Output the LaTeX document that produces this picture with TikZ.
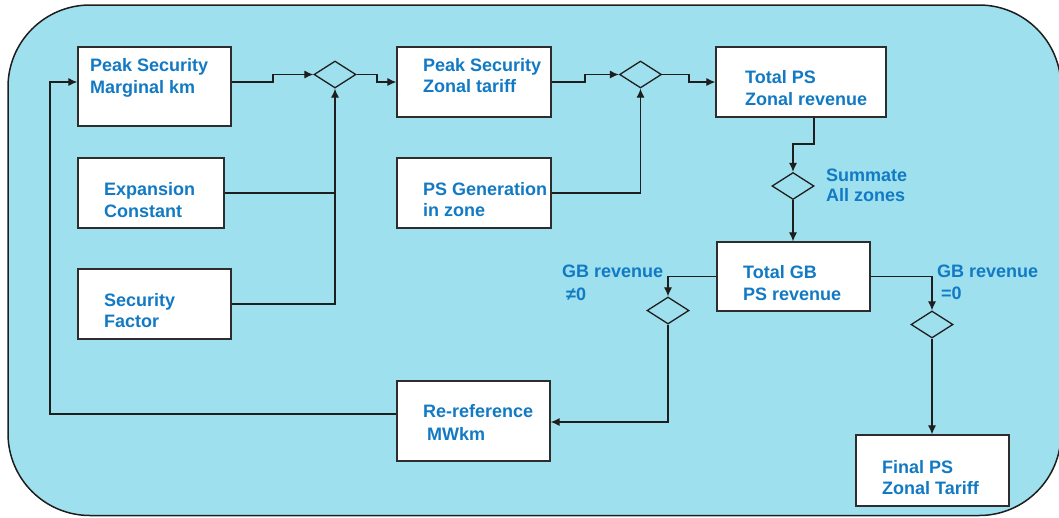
\documentclass[tikz,border=0pt]{standalone}
\usepackage{fontspec}
\setmainfont{Liberation Sans}
\usetikzlibrary{shapes.geometric,arrows.meta}
\definecolor{bgcol}{RGB}{158,224,238}
\definecolor{txtcol}{RGB}{18,122,196}
\definecolor{linecol}{RGB}{30,30,30}
\definecolor{boxline}{RGB}{45,45,45}
\tikzset{
  box/.style={draw=boxline, line width=1.3pt, fill=white, inner sep=0pt},
  dia/.style={diamond, draw=linecol, line width=1.3pt, inner sep=0pt, minimum width=42pt, minimum height=27pt},
  lbl/.style={anchor=base west, inner sep=0pt, text=txtcol, font=\fontsize{18}{22}\selectfont\bfseries},
  conn/.style={draw=linecol, line width=1.1pt},
  arr/.style={conn, -{Latex[length=9pt,width=8pt]}}
}
\begin{document}
\begin{tikzpicture}[x=1pt,y=-1pt]
\useasboundingbox (0,0) rectangle (1059,517);
\draw[fill=bgcol, draw=linecol, line width=1.5pt, rounded corners=82pt] (8,5) rectangle (1061,515.5);

% boxes
\node[box, minimum width=153pt, minimum height=79pt] (b1) at (154.5,86.5) {};
\node[box, minimum width=146pt, minimum height=70pt] (b2) at (151,193) {};
\node[box, minimum width=153pt, minimum height=70pt] (b3) at (154.5,304) {};
\node[box, minimum width=154pt, minimum height=70pt] (b4) at (474,82) {};
\node[box, minimum width=154pt, minimum height=70pt] (b5) at (474,193) {};
\node[box, minimum width=170pt, minimum height=70pt] (b6) at (801,82) {};
\node[box, minimum width=153pt, minimum height=69pt] (b7) at (793.5,276.5) {};
\node[box, minimum width=153pt, minimum height=80pt] (b8) at (473.5,421) {};
\node[box, minimum width=153pt, minimum height=71pt] (b9) at (932.5,470.5) {};

% diamonds
\node[dia] (d1) at (335,74.5) {};
\node[dia] (d2) at (640.5,74.5) {};
\node[dia] (d3) at (793,186) {};
\node[dia] (d4) at (668,310.5) {};
\node[dia] (d5) at (932,324.5) {};

% texts
\node[lbl] (t1a) at (90,71) {Peak Security};
\node[lbl] (t1b) at (90,93) {Marginal km};
\node[lbl] (t2a) at (104,195) {Expansion};
\node[lbl] (t2b) at (104,217) {Constant};
\node[lbl] (t3a) at (104,306) {Security};
\node[lbl] (t3b) at (104,327) {Factor};
\node[lbl] (t4a) at (423,71) {Peak Security};
\node[lbl] (t4b) at (423,92) {Zonal tariff};
\node[lbl] (t5a) at (423,195) {PS Generation};
\node[lbl] (t5b) at (423,216) {in zone};
\node[lbl] (t6a) at (745,83) {Total PS};
\node[lbl] (t6b) at (745,105) {Zonal revenue};
\node[lbl] (t7a) at (743,278) {Total GB};
\node[lbl] (t7b) at (743,300) {PS revenue};
\node[lbl] (s1) at (826,181) {Summate};
\node[lbl] (s2) at (826,201) {All zones};
\node[lbl] (g1) at (562,277) {GB revenue};
\node[lbl] (g2) at (566,300) {≠0};
\node[lbl] (g3) at (937,277) {GB revenue};
\node[lbl] (g4) at (941,299) {=0};
\node[lbl] (t8a) at (423,417) {Re-reference};
\node[lbl] (t8b) at (427,440) {MWkm};
\node[lbl] (t9a) at (882,473) {Final PS};
\node[lbl] (t9b) at (882,494) {Zonal Tariff};

% connectors
\draw[arr] ([yshift=4.5pt]b1.east) -- (273,82) -- (273,74.5) -- (d1.west);
\draw[arr] (d1.east) -- (377,74.5) -- (377,82) -- (b4.west);
\draw[arr] (b3.east) -- (d1.south |- b3.east) -- (d1.south);
\draw[conn] (b2.east) -- (d1.south |- b2.east);
\draw[arr] (b4.east) -- (585,82) -- (585,74.5) -- (d2.west);
\draw[arr] (d2.east) -- (689,74.5) -- (689,82) -- (b6.west);
\draw[arr] (b5.east) -- (d2.south |- b5.east) -- (d2.south);
\draw[arr] ([xshift=13pt]b6.south) -- (814,144) -- (793,144) -- (d3.north);
\draw[arr] (d3.south) -- (d3.south |- b7.north);
\draw[arr] (b7.west) -- (d4.north |- b7.west) -- (d4.north);
\draw[arr] (b7.east) -| (d5.north);
\draw[arr] (d4.south) |- ([yshift=-1pt]b8.east);
\draw[arr] ([yshift=7pt]b8.west) -- (50,414) -- (50,82) -- ([yshift=4.5pt]b1.west);
\draw[arr] (d5.south) -- (d5.south |- b9.north);
\end{tikzpicture}
\end{document}
